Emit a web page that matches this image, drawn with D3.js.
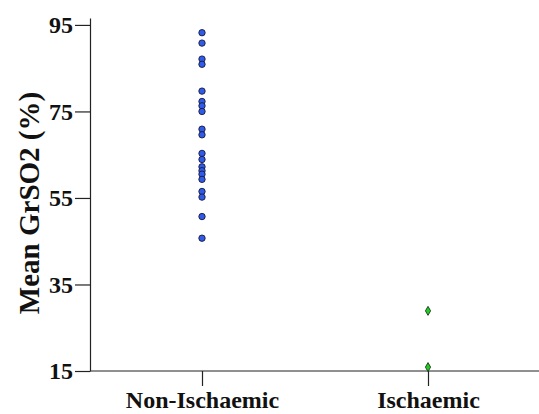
<!DOCTYPE html>
<html>
<head>
<meta charset="utf-8">
<script src="https://cdn.jsdelivr.net/npm/d3@7"></script>
<style>
  body { margin: 0; background: #fff; }
  text { font-family: "Liberation Serif", "Times New Roman", serif; font-weight: bold; }
</style>
</head>
<body>
<div id="chart"></div>
<script>
'use strict';

const categories = ['Non-Ischaemic', 'Ischaemic'];
const nonIschaemic = [93.2, 90.8, 87.1, 85.9, 79.7, 77.3, 76.3, 75.0, 70.9, 69.6,
                      65.3, 63.9, 62.2, 61.3, 60.5, 59.3, 56.5, 55.2, 50.7, 45.7];
const ischaemic = [28.9, 15.9];
const yTicks = [15, 35, 55, 75, 95];

const W = 539, H = 414;
const margin = { top: 18, right: 0, bottom: 43, left: 90 };
const width = W - margin.left - margin.right;
const height = H - margin.top - margin.bottom;

const svg = d3.select('#chart').append('svg')
    .attr('width', W)
    .attr('height', H)
  .append('g')
    .attr('transform', `translate(${margin.left}, ${margin.top})`);

const x = d3.scalePoint()
    .domain(categories)
    .range([112, 338]);

const y = d3.scaleLinear()
    .domain([15, 96.6])
    .range([height, 0]);

const yAxis = d3.axisLeft(y)
    .tickValues(yTicks)
    .tickSizeInner(15)
    .tickSizeOuter(0)
    .tickPadding(2);

const xAxis = d3.axisBottom(x)
    .tickSizeInner(15)
    .tickSizeOuter(0)
    .tickPadding(5);

const gy = svg.append('g').call(yAxis);
gy.selectAll('text').style('font-size', '24px').attr('fill', '#111');

const gx = svg.append('g')
    .attr('transform', `translate(0, ${height})`)
    .call(xAxis);
gx.select('.domain').attr('d', `M0,0H${width}`);
gx.selectAll('text').style('font-size', '24px').attr('fill', '#111');

svg.selectAll('.domain, .tick line').attr('stroke', '#222').attr('stroke-width', 1.2);

svg.append('text')
    .attr('transform', `translate(${29 - margin.left}, ${203 - margin.top}) rotate(-90)`)
    .attr('text-anchor', 'middle')
    .attr('dy', '0.35em')
    .style('font-size', '29px')
    .attr('fill', '#111')
    .text('Mean GrSO2 (%)');

svg.selectAll('.pt-non')
    .data(nonIschaemic)
  .enter().append('circle')
    .attr('class', 'pt-non')
    .attr('cx', x(categories[0]))
    .attr('cy', d => y(d))
    .attr('r', 3.2)
    .attr('fill', '#2f5be8')
    .attr('stroke', '#1a1a3a')
    .attr('stroke-width', 0.9);

const diamond = 'M0,-4.5L2.6,0L0,4.5L-2.6,0Z';
svg.selectAll('.pt-isch')
    .data(ischaemic)
  .enter().append('path')
    .attr('class', 'pt-isch')
    .attr('transform', d => `translate(${x(categories[1])}, ${y(d)})`)
    .attr('d', diamond)
    .attr('fill', '#22cc22')
    .attr('stroke', '#1a3a1a')
    .attr('stroke-width', 0.9);
</script>
</body>
</html>
